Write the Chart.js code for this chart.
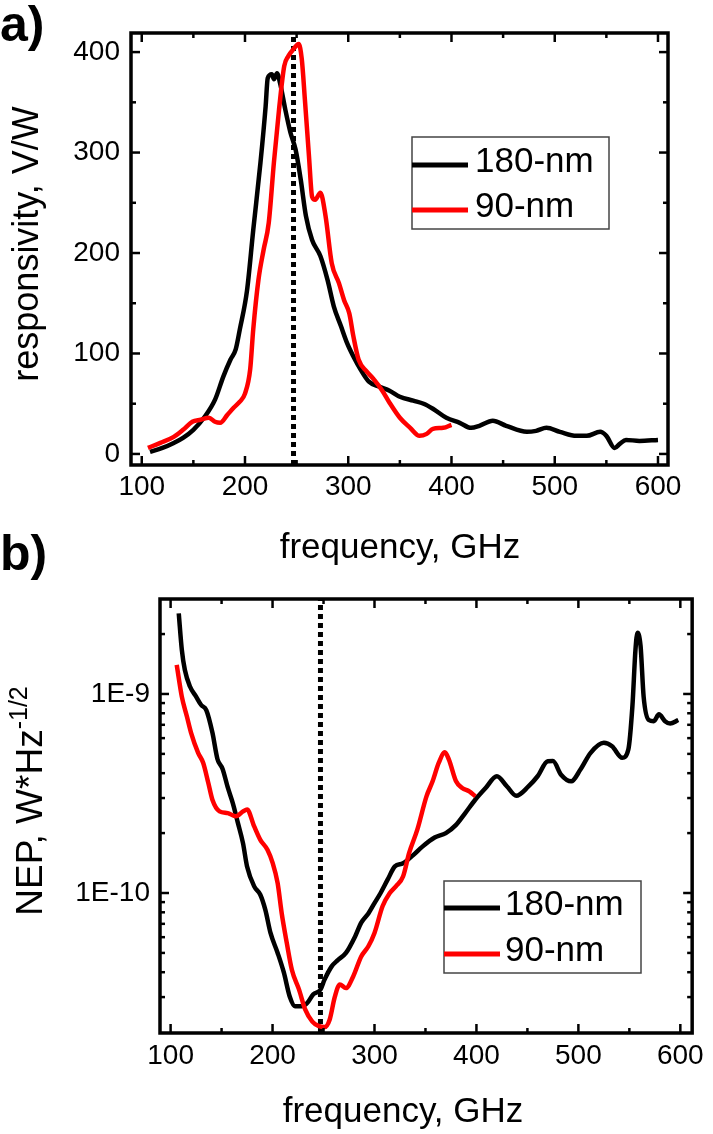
<!DOCTYPE html>
<html>
<head>
<meta charset="utf-8">
<script src="https://cdn.jsdelivr.net/npm/chart.js@4.4.1/dist/chart.umd.min.js"></script>
<style>
  body { margin: 0; background: #fff; }
  #wrap { position: relative; width: 713px; height: 1134px; font-family: "Liberation Sans", Arial, sans-serif; }
  canvas { position: absolute; left: 0; }
  #chartA { top: 0; }
  #chartB { top: 567px; }
  .panel { position: absolute; left: 0; font-weight: bold; font-size: 50px; line-height: 50px; }
</style>
</head>
<body>
<div id="wrap">
  <canvas id="chartA" width="713" height="567"></canvas>
  <canvas id="chartB" width="713" height="567"></canvas>
  <div class="panel" style="top:-1px">a)</div>
  <div class="panel" style="top:528px">b)</div>
</div>
<script>
Chart.defaults.font.family = '"Liberation Sans", Arial, sans-serif';
Chart.defaults.color = '#000';

// a) responsivity (V/W) vs frequency (GHz)
const freqA180 = [108, 120, 131, 140, 150, 161, 171, 179, 186, 191, 195, 202, 208, 215, 220, 222, 226, 228, 231, 234,
  239, 244, 249, 254, 259, 265, 273, 280, 286, 293, 299, 305, 312, 320, 330, 340, 350, 363, 373, 382,
  395, 408, 419, 427, 440, 453, 473, 482, 492, 505, 521, 531, 544, 550, 558, 563, 569, 582, 600];
const respA180 = [2, 6, 11, 16, 24, 37, 54, 77, 94, 104, 124, 163, 223, 290, 346, 374, 378, 373, 379, 369,
  343, 320, 303, 273, 237, 213, 197, 173, 147, 127, 110, 97, 84, 72, 67, 63, 57, 53, 50, 45,
  36, 31, 26, 28, 33, 28, 22, 23, 26, 22, 18, 18, 22, 18, 6, 10, 14, 13, 14];
const freqA90 = [106, 118, 131, 140, 149, 157, 165, 171, 176, 183, 189, 195, 200, 205, 208, 213, 218, 223, 228, 233,
  238, 242, 247, 252, 255, 258, 262, 265, 268, 273, 278, 284, 291, 296, 301, 305, 310, 318, 325, 333,
  340, 350, 360, 369, 376, 382, 392, 400];
const respA90 = [6, 11, 17, 24, 32, 34, 36, 32, 31, 39, 46, 52, 60, 84, 124, 173, 203, 230, 290, 343,
  386, 396, 403, 408, 393, 353, 296, 256, 253, 260, 237, 190, 170, 153, 140, 117, 94, 82, 74, 63,
  51, 36, 26, 18, 20, 25, 26, 29];

// b) NEP (W*Hz^-1/2) vs frequency (GHz)
const freqB180 = [108, 111, 114, 119, 125, 130, 135, 141, 146, 151, 156, 161, 166, 171, 175, 182, 188, 193, 198, 205,
  211, 217, 222, 229, 234, 240, 247, 251, 258, 264, 272, 281, 287, 294, 300, 306, 313, 320, 328, 338,
  347, 359, 370, 380, 389, 399, 409, 420, 430, 439, 451, 460, 470, 475, 483, 493, 502, 512, 525, 533,
  543, 549, 553, 556, 558, 561, 564, 569, 574, 579, 585, 590, 598];
const nepB180 = [2.54e-9, 1.67e-9, 1.32e-9, 1.09e-9, 9.7e-10, 8.8e-10, 8.3e-10, 6.4e-10, 4.7e-10, 4.2e-10,
  3.4e-10, 2.83e-10, 2.25e-10, 1.78e-10, 1.36e-10, 1.08e-10, 9.8e-11, 8.2e-11, 6.3e-11, 5.0e-11,
  4.0e-11, 3.0e-11, 2.7e-11, 2.7e-11, 2.8e-11, 3.1e-11, 3.27e-11, 3.67e-11, 4.28e-11, 4.6e-11,
  5.0e-11, 6.05e-11, 7.1e-11, 7.9e-11, 8.9e-11, 1.0e-10, 1.17e-10, 1.36e-10, 1.41e-10, 1.55e-10,
  1.71e-10, 1.9e-10, 2.0e-10, 2.2e-10, 2.52e-10, 2.95e-10, 3.37e-10, 3.86e-10, 3.43e-10, 3.08e-10,
  3.43e-10, 3.86e-10, 4.59e-10, 4.6e-10, 3.93e-10, 3.64e-10, 4.17e-10, 5.06e-10, 5.68e-10, 5.46e-10,
  4.78e-10, 5.26e-10, 8.7e-10, 1.67e-9, 2.03e-9, 1.74e-9, 9.7e-10, 7.4e-10, 7.3e-10, 7.9e-10,
  7.3e-10, 7.1e-10, 7.4e-10];
const freqB90 = [106, 111, 116, 120, 127, 132, 137, 141, 148, 156, 164, 171, 175, 182, 188, 195, 200, 205, 209, 214,
  219, 226, 232, 239, 245, 251, 256, 261, 266, 272, 279, 287, 294, 300, 308, 315, 321, 328, 334, 342,
  351, 357, 363, 369, 373, 380, 386, 393, 399];
const nepB90 = [1.40e-9, 9.7e-10, 7.7e-10, 6.4e-10, 5.06e-10, 4.5e-10, 3.57e-10, 2.94e-10, 2.57e-10, 2.52e-10,
  2.43e-10, 2.57e-10, 2.63e-10, 2.16e-10, 1.85e-10, 1.65e-10, 1.42e-10, 1.12e-10, 7.9e-11, 5.6e-11,
  4.1e-11, 3.27e-11, 2.6e-11, 2.26e-11, 2.15e-11, 2.12e-11, 2.31e-11, 3.0e-11, 3.47e-11, 3.33e-11,
  3.8e-11, 4.8e-11, 5.4e-11, 6.3e-11, 8.6e-11, 1.0e-10, 1.08e-10, 1.21e-10, 1.59e-10, 2.08e-10,
  3.06e-10, 3.64e-10, 4.5e-10, 5.09e-10, 4.68e-10, 3.64e-10, 3.37e-10, 3.24e-10, 3.06e-10];

const seriesNames = ['180-nm', '90-nm'];
const seriesColors = ['#000000', '#ff0000'];
const markerFreq = 247; // dotted line

const freqTicks = [100, 200, 300, 400, 500, 600];
const freqMinor = [150, 250, 350, 450, 550];
const respTicks = [0, 100, 200, 300, 400];
const respMinor = [50, 150, 250, 350];
const nepTicks = [1e-10, 1e-9];
const nepTickLabels = ['1E-10', '1E-9'];
const nepMinor = [3e-11, 4e-11, 5e-11, 6e-11, 7e-11, 8e-11, 9e-11,
  2e-10, 3e-10, 4e-10, 5e-10, 6e-10, 7e-10, 8e-10, 9e-10, 2e-9];

const FONT = '"Liberation Sans", Arial, sans-serif';

const pts = (xs, ys) => xs.map((x, i) => ({ x: x, y: ys[i] }));

function curve(i, xs, ys) {
  return {
    label: seriesNames[i], data: pts(xs, ys), borderColor: seriesColors[i], borderWidth: 4.5,
    pointRadius: 0, cubicInterpolationMode: 'monotone', fill: false, order: i === 1 ? 0 : 1
  };
}
function marker(yMin, yMax) {
  return {
    data: [{ x: markerFreq, y: yMin }, { x: markerFreq, y: yMax }],
    borderColor: '#000', borderWidth: 5, borderDash: [5, 4], pointRadius: 0, order: 2
  };
}

// frame + inward ticks on all four sides
const frameTicks = {
  id: 'frameTicks',
  afterDraw(chart, args, o) {
    const { ctx, chartArea: a, scales: { x, y } } = chart;
    ctx.save();
    ctx.strokeStyle = '#000';
    ctx.lineWidth = 2.5;
    const seg = (x1, y1, x2, y2) => { ctx.beginPath(); ctx.moveTo(x1, y1); ctx.lineTo(x2, y2); ctx.stroke(); };
    const xt = (vals, len) => vals.forEach(v => {
      const p = x.getPixelForValue(v);
      seg(p, a.bottom, p, a.bottom - len); seg(p, a.top, p, a.top + len);
    });
    const yt = (vals, len) => vals.forEach(v => {
      const p = y.getPixelForValue(v);
      seg(a.left, p, a.left + len, p); seg(a.right, p, a.right - len, p);
    });
    xt(o.xMajor, 9); xt(o.xMinor, 5);
    yt(o.yMajor, 9); yt(o.yMinor, 5);
    ctx.lineWidth = 3.5;
    ctx.strokeRect(a.left, a.top, a.right - a.left, a.bottom - a.top);
    ctx.restore();
  }
};

// axis titles (y title may carry a superscript)
const axisText = {
  id: 'axisText',
  afterDraw(chart, args, o) {
    const ctx = chart.ctx;
    ctx.save();
    ctx.fillStyle = '#000';
    ctx.textBaseline = 'alphabetic';
    ctx.font = o.size + 'px ' + FONT;
    ctx.textAlign = 'center';
    ctx.fillText(o.xTitle, o.xTitleX, o.xTitleY);

    const mainFont = o.ySize + 'px ' + FONT;
    const supFont = o.supSize + 'px ' + FONT;
    ctx.font = mainFont;
    const mainW = ctx.measureText(o.yTitle).width;
    ctx.font = supFont;
    const supW = o.yTitleSup ? ctx.measureText(o.yTitleSup).width : 0;
    ctx.translate(o.yTitleX, o.yTitleY);
    ctx.rotate(-Math.PI / 2);
    ctx.textAlign = 'left';
    const start = -(mainW + supW) / 2;
    ctx.font = mainFont;
    ctx.fillText(o.yTitle, start, 0);
    if (o.yTitleSup) {
      ctx.font = supFont;
      ctx.fillText(o.yTitleSup, start + mainW, -o.ySize * 0.4);
    }
    ctx.restore();
  }
};

// boxed legend inside the plot
const boxLegend = {
  id: 'boxLegend',
  afterDraw(chart, args, o) {
    const ctx = chart.ctx;
    ctx.save();
    ctx.fillStyle = '#fff';
    ctx.fillRect(o.left, o.top, o.width, o.height);
    ctx.strokeStyle = '#444';
    ctx.lineWidth = 1.5;
    ctx.strokeRect(o.left, o.top, o.width, o.height);
    ctx.font = o.size + 'px ' + FONT;
    ctx.textBaseline = 'middle';
    ctx.textAlign = 'left';
    seriesNames.forEach((name, i) => {
      const yy = o.top + o.rows[i];
      ctx.strokeStyle = seriesColors[i];
      ctx.lineWidth = 5;
      ctx.beginPath(); ctx.moveTo(o.left, yy); ctx.lineTo(o.left + o.lineLen, yy); ctx.stroke();
      ctx.fillStyle = '#000';
      ctx.fillText(name, o.left + o.textOff, yy - 3);
    });
    ctx.restore();
  }
};

function xScale(minV, maxV, pad, h) {
  return {
    type: 'linear', min: minV, max: maxV,
    grid: { display: false, drawTicks: false }, border: { display: false },
    ticks: { font: { size: 28, lineHeight: 1 }, padding: pad, maxRotation: 0, autoSkip: false, callback: v => String(v) },
    afterBuildTicks: s => { s.ticks = freqTicks.map(v => ({ value: v })); },
    afterFit: s => { s.height = h; }
  };
}

// panel a
const yMinA = -11, yMaxA = 419;
new Chart(document.getElementById('chartA'), {
  type: 'line',
  data: {
    datasets: [curve(0, freqA180, respA180), curve(1, freqA90, respA90), marker(yMinA, yMaxA)]
  },
  options: {
    responsive: false, animation: false,
    layout: { padding: { top: 33, right: 45, left: 0, bottom: 0 } },
    scales: {
      x: xScale(89.6, 609.7, 8, 102),
      y: {
        type: 'linear', min: yMinA, max: yMaxA,
        grid: { display: false, drawTicks: false }, border: { display: false },
        ticks: { font: { size: 28, lineHeight: 1 }, padding: 11, autoSkip: false, callback: v => String(v) },
        afterBuildTicks: s => { s.ticks = respTicks.map(v => ({ value: v })); },
        afterFit: s => { s.width = 131; }
      }
    },
    plugins: {
      legend: { display: false }, tooltip: { enabled: false },
      frameTicks: { xMajor: freqTicks, xMinor: freqMinor, yMajor: respTicks, yMinor: respMinor },
      axisText: {
        size: 35, xTitle: 'frequency, GHz', xTitleX: 400, xTitleY: 558,
        ySize: 36, supSize: 24, yTitle: 'responsivity, V/W', yTitleX: 38, yTitleY: 244
      },
      boxLegend: { left: 412, top: 137, width: 197, height: 92, rows: [28, 73], lineLen: 56, textOff: 63, size: 35 }
    }
  },
  plugins: [frameTicks, axisText, boxLegend]
});

// panel b
const yMinB = 1.98e-11, yMaxB = 3.0e-9;
new Chart(document.getElementById('chartB'), {
  type: 'line',
  data: {
    datasets: [curve(0, freqB180, nepB180), curve(1, freqB90, nepB90), marker(yMinB, yMaxB)]
  },
  options: {
    responsive: false, animation: false,
    layout: { padding: { top: 32, right: 14, left: 0, bottom: 0 } },
    scales: {
      x: xScale(89.6, 611.6, 9, 101),
      y: {
        type: 'logarithmic', min: yMinB, max: yMaxB,
        grid: { display: false, drawTicks: false }, border: { display: false },
        ticks: { font: { size: 28, lineHeight: 1 }, padding: 10, autoSkip: false, callback: (v, i) => nepTickLabels[i] },
        afterBuildTicks: s => { s.ticks = nepTicks.map(v => ({ value: v })); },
        afterFit: s => { s.width = 160; }
      }
    },
    plugins: {
      legend: { display: false }, tooltip: { enabled: false },
      frameTicks: { xMajor: freqTicks, xMinor: freqMinor, yMajor: nepTicks, yMinor: nepMinor },
      axisText: {
        size: 35, xTitle: 'frequency, GHz', xTitleX: 403, xTitleY: 555,
        ySize: 37, supSize: 25, yTitle: 'NEP, W*Hz', yTitleSup: '-1/2', yTitleX: 42, yTitleY: 234
      },
      boxLegend: { left: 444, top: 314, width: 197, height: 92, rows: [27, 73], lineLen: 56, textOff: 61, size: 35 }
    }
  },
  plugins: [frameTicks, axisText, boxLegend]
});
</script>
</body>
</html>
